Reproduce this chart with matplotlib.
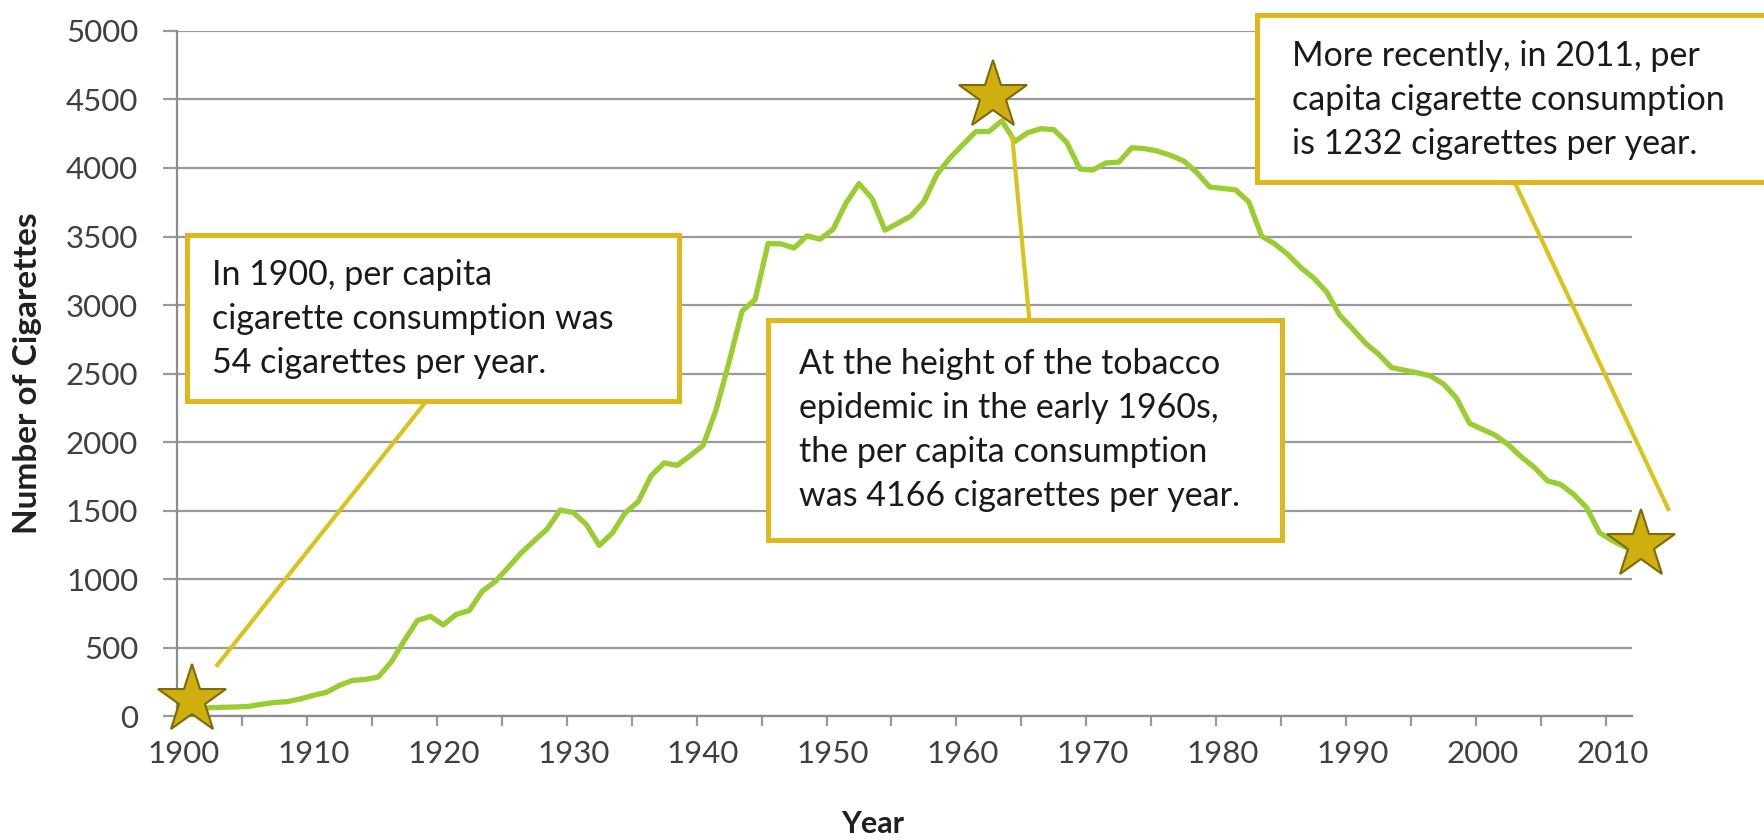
import numpy as np
import matplotlib
matplotlib.use('Agg')
import matplotlib.pyplot as plt
from matplotlib.patches import Rectangle

plt.rcParams['font.family'] = ['Lato', 'DejaVu Sans']

# per capita cigarette consumption, adults, 1900-2011
years = np.arange(1900, 2012)
cigarettes = [
    54, 53, 60, 64, 66, 70, 86, 99, 105, 125,
    151, 173, 223, 260, 267, 285, 395, 551, 697, 727,
    665, 742, 770, 911, 982, 1085, 1191, 1279, 1366, 1504,
    1485, 1399, 1245, 1334, 1483, 1564, 1754, 1847, 1830, 1900,
    1976, 2236, 2585, 2956, 3039, 3449, 3446, 3416, 3505, 3480,
    3552, 3744, 3886, 3778, 3546, 3597, 3650, 3755, 3953, 4073,
    4171, 4266, 4266, 4345, 4194, 4258, 4287, 4280, 4186, 3993,
    3985, 4037, 4043, 4148, 4141, 4123, 4092, 4051, 3967, 3861,
    3851, 3840, 3753, 3502, 3446, 3370, 3274, 3197, 3096, 2926,
    2826, 2720, 2641, 2543, 2524, 2505, 2482, 2423, 2320, 2136,
    2092, 2048, 1979, 1890, 1814, 1716, 1691, 1619, 1523, 1339,
    1280, 1232,
]

yticks = np.arange(0, 5001, 500)
xticks = np.arange(1900, 2011, 10)

notes = [
    "In 1900, per capita\ncigarette consumption was\n54 cigarettes per year.",
    "At the height of the tobacco\nepidemic in the early 1960s,\nthe per capita consumption\nwas 4166 cigarettes per year.",
    "More recently, in 2011, per\ncapita cigarette consumption\nis 1232 cigarettes per year.",
]
# star positions (year, cigarettes)
star_x = [1900.65, 1962.3, 2012.2]
star_y = [117, 4525, 1248]

fig = plt.figure(figsize=(17.65, 8.4), dpi=100)
ax = fig.add_axes([0.1003, 0.1476, 0.8243, 0.8155])

ax.set_xlim(1899.5, 2011.5)
ax.set_ylim(0, 5000)

ax.set_yticks(yticks)
ax.set_xticks(xticks)
ax.set_xticks(np.arange(1904.5, 2011, 5), minor=True)
ax.yaxis.grid(True, color='#9a9a9a', linewidth=1.6)
ax.set_axisbelow(True)
for s in ['top', 'right']:
    ax.spines[s].set_visible(False)
for s in ['left', 'bottom']:
    ax.spines[s].set_color('#8c8c8c')
    ax.spines[s].set_linewidth(1.6)

ax.tick_params(axis='y', length=10, width=1.6, color='#9a9a9a', pad=18,
               labelsize=22.5, labelcolor='#404040')
ax.tick_params(axis='x', which='major', length=0, pad=17,
               labelsize=22.5, labelcolor='#404040')
ax.tick_params(axis='x', which='minor', length=7, width=1.6, color='#9a9a9a')

ax.set_ylabel('Number of Cigarettes', fontsize=24, fontweight='bold', color='#202020')
ax.yaxis.set_label_coords(-0.093, 0.5)
ax.set_xlabel('Year', fontsize=22, fontweight='bold', color='#202020')
ax.xaxis.set_label_coords(0.478, -0.137)

ax.plot(years, cigarettes, color='#9acd32', linewidth=3.8, solid_joinstyle='round', zorder=3)

gold = '#e0b81c'
lead = '#d9c41c'

# leader lines from the callouts to the stars
ax.plot([1902.6, 1918.7], [372, 2299], color=lead, linewidth=3, zorder=4, clip_on=False)
ax.plot([1965.1, 1963.8], [2905, 4226], color=lead, linewidth=3, zorder=4, clip_on=False)
ax.plot([2002.6, 2014.3], [3869, 1511], color=lead, linewidth=3, zorder=4, clip_on=False)

# callout boxes
boxes = [(1900.3, 2300, 37.85, 1211), (1945.0, 1285, 39.6, 1606), (1982.6, 3898, 42.0, 1219)]
text_pos = [(1902.2, 2898), (1947.4, 2088), (1985.3, 4496)]
for (bx, by, bw, bh), (tx, ty), note in zip(boxes, text_pos, notes):
    ax.add_patch(Rectangle((bx, by), bw, bh, facecolor='white', edgecolor=gold,
                           linewidth=3.6, zorder=5, clip_on=False))
    ax.text(tx, ty, note, fontsize=24.5, color='#1a1a1a', va='center', ha='left',
            linespacing=1.45, zorder=6, clip_on=False)

ax.plot(star_x, star_y, linestyle='none', marker='*', markersize=52,
        markerfacecolor='#cfae10', markeredgecolor='#7d6a08', markeredgewidth=1.5,
        zorder=7, clip_on=False)

fig.savefig('out.png', dpi=100)
